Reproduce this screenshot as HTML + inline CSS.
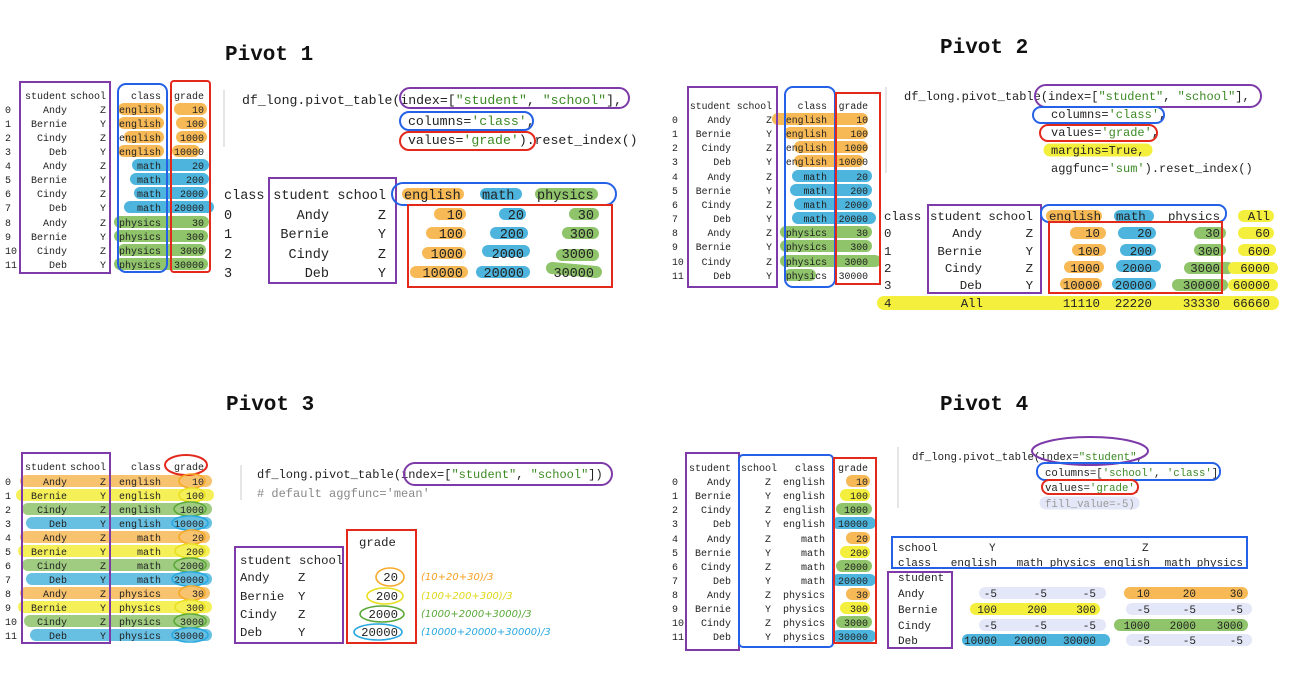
<!DOCTYPE html>
<html><head><meta charset="utf-8"><style>
html,body{margin:0;padding:0;background:#fff;}
svg{display:block;}
text{font-family:"Liberation Mono","DejaVu Sans Mono",monospace;fill:#222;}
.t{font-size:21px;font-weight:bold;fill:#111;}
.s{font-size:10px;text-anchor:end;}
.s tspan.i{text-anchor:start;}
.h line{stroke-linecap:round;stroke-width:12;}
.o{stroke:#f7b955;} .b{stroke:#4db4dd;} .g{stroke:#8fc46a;} .y{stroke:#f4ee3c;} .l{stroke:#e3e7f7;}
.bx{fill:none;stroke-width:2;}
.P{stroke:#7d3aa8;} .B{stroke:#2461e6;} .R{stroke:#e3281c;}
.str{fill:#3c8a24;} .k{fill:#8a5aa0;}
.hw{font-family:"DejaVu Sans",sans-serif;font-size:10px;font-style:italic;}
</style></head><body>
<svg width="1293" height="673" viewBox="0 0 1293 673" xmlns="http://www.w3.org/2000/svg">
<!-- titles -->
<text class="t" x="225" y="60">Pivot 1</text>
<text class="t" x="940" y="53">Pivot 2</text>
<text class="t" x="226" y="410">Pivot 3</text>
<text class="t" x="940" y="410">Pivot 4</text>

<!-- ========== Q1 ========== -->
<g class="h">
<line class="o" x1="124" y1="109" x2="158" y2="109"/><line class="o" x1="180" y1="109" x2="201" y2="109"/>
<line class="o" x1="124" y1="123" x2="158" y2="123"/><line class="o" x1="182" y1="123" x2="201" y2="123"/>
<line class="o" x1="130" y1="137" x2="158" y2="137"/><line class="o" x1="182" y1="137" x2="201" y2="137"/>
<line class="o" x1="124" y1="151" x2="158" y2="151"/><line class="o" x1="178" y1="151" x2="194" y2="151"/>
<line class="b" x1="138" y1="165" x2="203" y2="165"/>
<line class="b" x1="136" y1="179" x2="203" y2="179"/>
<line class="b" x1="140" y1="193" x2="202" y2="193"/>
<line class="b" x1="130" y1="207" x2="208" y2="207"/>
<line class="g" x1="120" y1="222" x2="203" y2="222"/>
<line class="g" x1="120" y1="236" x2="202" y2="236"/>
<line class="g" x1="124" y1="250" x2="200" y2="250"/>
<line class="g" x1="120" y1="264" x2="202" y2="264"/>
</g>
<g class="s">
<text y="99"><tspan x="67">student</tspan><tspan x="106">school</tspan><tspan x="161">class</tspan><tspan x="204">grade</tspan></text>
<text y="113"><tspan class="i" x="5">0</tspan><tspan x="67">Andy</tspan><tspan x="106">Z</tspan><tspan x="161">english</tspan><tspan x="204">10</tspan></text>
<text y="127"><tspan class="i" x="5">1</tspan><tspan x="67">Bernie</tspan><tspan x="106">Y</tspan><tspan x="161">english</tspan><tspan x="204">100</tspan></text>
<text y="141"><tspan class="i" x="5">2</tspan><tspan x="67">Cindy</tspan><tspan x="106">Z</tspan><tspan x="161">english</tspan><tspan x="204">1000</tspan></text>
<text y="155"><tspan class="i" x="5">3</tspan><tspan x="67">Deb</tspan><tspan x="106">Y</tspan><tspan x="161">english</tspan><tspan x="204">10000</tspan></text>
<text y="169"><tspan class="i" x="5">4</tspan><tspan x="67">Andy</tspan><tspan x="106">Z</tspan><tspan x="161">math</tspan><tspan x="204">20</tspan></text>
<text y="183"><tspan class="i" x="5">5</tspan><tspan x="67">Bernie</tspan><tspan x="106">Y</tspan><tspan x="161">math</tspan><tspan x="204">200</tspan></text>
<text y="197"><tspan class="i" x="5">6</tspan><tspan x="67">Cindy</tspan><tspan x="106">Z</tspan><tspan x="161">math</tspan><tspan x="204">2000</tspan></text>
<text y="211"><tspan class="i" x="5">7</tspan><tspan x="67">Deb</tspan><tspan x="106">Y</tspan><tspan x="161">math</tspan><tspan x="204">20000</tspan></text>
<text y="226"><tspan class="i" x="5">8</tspan><tspan x="67">Andy</tspan><tspan x="106">Z</tspan><tspan x="161">physics</tspan><tspan x="204">30</tspan></text>
<text y="240"><tspan class="i" x="5">9</tspan><tspan x="67">Bernie</tspan><tspan x="106">Y</tspan><tspan x="161">physics</tspan><tspan x="204">300</tspan></text>
<text y="254"><tspan class="i" x="5">10</tspan><tspan x="67">Cindy</tspan><tspan x="106">Z</tspan><tspan x="161">physics</tspan><tspan x="204">3000</tspan></text>
<text y="268"><tspan class="i" x="5">11</tspan><tspan x="67">Deb</tspan><tspan x="106">Y</tspan><tspan x="161">physics</tspan><tspan x="204">30000</tspan></text>
</g>
<rect class="bx P" x="20" y="82" width="90" height="191"/>
<rect class="bx B" x="118" y="84" width="49" height="188" rx="8"/>
<rect class="bx R" x="171" y="81" width="39" height="191" rx="3"/>
<line x1="224" y1="90" x2="224" y2="147" stroke="#ddd" stroke-width="1.5"/>
<g style="font-size:13.2px">
<text x="242" y="104">df_long.pivot_table(index=[<tspan class="str">"student"</tspan>, <tspan class="str">"school"</tspan>],</text>
<text x="408" y="125">columns=<tspan class="str">'class'</tspan>,</text>
<text x="408" y="144">values=<tspan class="str">'grade'</tspan>).reset_index()</text>
</g>
<rect class="bx P" x="400" y="88" width="229" height="20" rx="10"/>
<rect class="bx B" x="400" y="112" width="133" height="18" rx="9"/>
<rect class="bx R" x="400" y="132" width="135" height="18" rx="9"/>
<!-- Q1 output -->
<g class="h">
<line class="o" x1="408" y1="194" x2="458" y2="194"/><line class="b" x1="486" y1="194" x2="516" y2="194"/><line class="g" x1="541" y1="194" x2="592" y2="194"/>
<line class="o" x1="440" y1="214" x2="460" y2="214"/><line class="b" x1="505" y1="214" x2="520" y2="214"/><line class="g" x1="575" y1="214" x2="593" y2="214"/>
<line class="o" x1="432" y1="233" x2="460" y2="233"/><line class="b" x1="496" y1="233" x2="522" y2="233"/><line class="g" x1="568" y1="233" x2="593" y2="233"/>
<line class="o" x1="428" y1="253" x2="460" y2="253"/><line class="b" x1="488" y1="251" x2="524" y2="251"/><line class="g" x1="562" y1="255" x2="593" y2="255"/>
<line class="o" x1="416" y1="272" x2="462" y2="272"/><line class="b" x1="482" y1="272" x2="524" y2="272"/><line class="g" x1="552" y1="268" x2="596" y2="272"/>
</g>
<g style="font-size:13.5px;text-anchor:end">
<text y="199"><tspan x="224" style="text-anchor:start">class</tspan><tspan x="330">student</tspan><tspan x="386">school</tspan><tspan x="404" style="text-anchor:start">english</tspan><tspan x="482" style="text-anchor:start">math</tspan><tspan x="537" style="text-anchor:start">physics</tspan></text>
<text y="219"><tspan x="224" style="text-anchor:start">0</tspan><tspan x="329">Andy</tspan><tspan x="386">Z</tspan><tspan x="463">10</tspan><tspan x="524">20</tspan><tspan x="594">30</tspan></text>
<text y="238"><tspan x="224" style="text-anchor:start">1</tspan><tspan x="329">Bernie</tspan><tspan x="386">Y</tspan><tspan x="463">100</tspan><tspan x="524">200</tspan><tspan x="594">300</tspan></text>
<text y="258"><tspan x="224" style="text-anchor:start">2</tspan><tspan x="329">Cindy</tspan><tspan x="386">Z</tspan><tspan x="463">1000</tspan><tspan x="524">2000</tspan><tspan x="594">3000</tspan></text>
<text y="277"><tspan x="224" style="text-anchor:start">3</tspan><tspan x="329">Deb</tspan><tspan x="386">Y</tspan><tspan x="463">10000</tspan><tspan x="524">20000</tspan><tspan x="594">30000</tspan></text>
</g>
<rect class="bx P" x="269" y="178" width="127" height="105"/>
<rect class="bx B" x="392" y="183" width="224" height="22" rx="11"/>
<rect class="bx R" x="408" y="205" width="204" height="82"/>

<!-- ========== Q2 ========== -->
<g class="h">
<line class="o" x1="778" y1="119" x2="862" y2="119"/>
<line class="o" x1="790" y1="133" x2="862" y2="133"/>
<line class="o" x1="800" y1="147" x2="862" y2="147"/>
<line class="o" x1="800" y1="161" x2="858" y2="161"/>
<line class="b" x1="798" y1="176" x2="866" y2="176"/>
<line class="b" x1="796" y1="190" x2="866" y2="190"/>
<line class="b" x1="800" y1="204" x2="866" y2="204"/>
<line class="b" x1="798" y1="218" x2="870" y2="218"/>
<line class="g" x1="786" y1="232" x2="866" y2="232"/>
<line class="g" x1="786" y1="246" x2="866" y2="246"/>
<line class="g" x1="786" y1="261" x2="875" y2="261"/>
<line class="g" x1="790" y1="275" x2="810" y2="275"/>
</g>
<g class="s" style="font-size:9.8px">
<text y="109"><tspan x="731">student</tspan><tspan x="772">school</tspan><tspan x="827">class</tspan><tspan x="868">grade</tspan></text>
<text y="123"><tspan class="i" x="672">0</tspan><tspan x="731">Andy</tspan><tspan x="772">Z</tspan><tspan x="827">english</tspan><tspan x="868">10</tspan></text>
<text y="137"><tspan class="i" x="672">1</tspan><tspan x="731">Bernie</tspan><tspan x="772">Y</tspan><tspan x="827">english</tspan><tspan x="868">100</tspan></text>
<text y="151"><tspan class="i" x="672">2</tspan><tspan x="731">Cindy</tspan><tspan x="772">Z</tspan><tspan x="827">english</tspan><tspan x="868">1000</tspan></text>
<text y="165"><tspan class="i" x="672">3</tspan><tspan x="731">Deb</tspan><tspan x="772">Y</tspan><tspan x="827">english</tspan><tspan x="868">10000</tspan></text>
<text y="180"><tspan class="i" x="672">4</tspan><tspan x="731">Andy</tspan><tspan x="772">Z</tspan><tspan x="827">math</tspan><tspan x="868">20</tspan></text>
<text y="194"><tspan class="i" x="672">5</tspan><tspan x="731">Bernie</tspan><tspan x="772">Y</tspan><tspan x="827">math</tspan><tspan x="868">200</tspan></text>
<text y="208"><tspan class="i" x="672">6</tspan><tspan x="731">Cindy</tspan><tspan x="772">Z</tspan><tspan x="827">math</tspan><tspan x="868">2000</tspan></text>
<text y="222"><tspan class="i" x="672">7</tspan><tspan x="731">Deb</tspan><tspan x="772">Y</tspan><tspan x="827">math</tspan><tspan x="868">20000</tspan></text>
<text y="236"><tspan class="i" x="672">8</tspan><tspan x="731">Andy</tspan><tspan x="772">Z</tspan><tspan x="827">physics</tspan><tspan x="868">30</tspan></text>
<text y="250"><tspan class="i" x="672">9</tspan><tspan x="731">Bernie</tspan><tspan x="772">Y</tspan><tspan x="827">physics</tspan><tspan x="868">300</tspan></text>
<text y="265"><tspan class="i" x="672">10</tspan><tspan x="731">Cindy</tspan><tspan x="772">Z</tspan><tspan x="827">physics</tspan><tspan x="868">3000</tspan></text>
<text y="279"><tspan class="i" x="672">11</tspan><tspan x="731">Deb</tspan><tspan x="772">Y</tspan><tspan x="827">physics</tspan><tspan x="868">30000</tspan></text>
</g>
<rect class="bx P" x="688" y="87" width="89" height="200"/>
<rect class="bx B" x="785" y="87" width="50" height="200" rx="8"/>
<rect class="bx R" x="836" y="93" width="44" height="191"/>
<line x1="886" y1="87" x2="886" y2="173" stroke="#ddd" stroke-width="1.5"/>
<g class="h"><line class="y" x1="1050" y1="150" x2="1146" y2="150" style="stroke-width:13"/></g>
<g style="font-size:12px">
<text x="904" y="100">df_long.pivot_table(index=[<tspan class="str">"student"</tspan>, <tspan class="str">"school"</tspan>],</text>
<text x="1051" y="118">columns=<tspan class="str">'class'</tspan>,</text>
<text x="1051" y="136">values=<tspan class="str">'grade'</tspan>,</text>
<text x="1051" y="154">margins=True,</text>
<text x="1051" y="172">aggfunc=<tspan class="str">'sum'</tspan>).reset_index()</text>
</g>
<rect class="bx P" x="1035" y="85" width="226" height="22" rx="11"/>
<rect class="bx B" x="1033" y="107" width="131" height="16" rx="8"/>
<rect class="bx R" x="1040" y="125" width="117" height="16" rx="8"/>
<!-- Q2 output -->
<g class="h">
<line class="y" x1="884" y1="303" x2="1272" y2="303" style="stroke-width:14"/>
<line class="o" x1="1052" y1="216" x2="1096" y2="216"/><line class="b" x1="1120" y1="216" x2="1148" y2="216"/><line class="y" x1="1244" y1="216" x2="1268" y2="216"/>
<line class="o" x1="1076" y1="233" x2="1100" y2="233"/><line class="b" x1="1124" y1="233" x2="1150" y2="233"/><line class="g" x1="1200" y1="233" x2="1220" y2="233"/><line class="y" x1="1244" y1="233" x2="1268" y2="233"/>
<line class="o" x1="1078" y1="250" x2="1100" y2="250"/><line class="b" x1="1126" y1="250" x2="1150" y2="250"/><line class="g" x1="1200" y1="250" x2="1220" y2="250"/><line class="y" x1="1244" y1="250" x2="1270" y2="250"/>
<line class="o" x1="1070" y1="267" x2="1098" y2="267"/><line class="b" x1="1122" y1="266" x2="1155" y2="266"/><line class="g" x1="1190" y1="268" x2="1228" y2="268"/><line class="y" x1="1234" y1="268" x2="1272" y2="268"/>
<line class="o" x1="1066" y1="284" x2="1096" y2="284"/><line class="b" x1="1118" y1="284" x2="1150" y2="284"/><line class="g" x1="1178" y1="285" x2="1222" y2="285"/><line class="y" x1="1234" y1="285" x2="1272" y2="285"/>
</g>
<g style="font-size:12.4px;text-anchor:end">
<text y="220"><tspan x="884" style="text-anchor:start">class</tspan><tspan x="982">student</tspan><tspan x="1033">school</tspan><tspan x="1049" style="text-anchor:start">english</tspan><tspan x="1116" style="text-anchor:start">math</tspan><tspan x="1168" style="text-anchor:start">physics</tspan><tspan x="1270">All</tspan></text>
<text y="237"><tspan x="884" style="text-anchor:start">0</tspan><tspan x="982">Andy</tspan><tspan x="1033">Z</tspan><tspan x="1100">10</tspan><tspan x="1152">20</tspan><tspan x="1220">30</tspan><tspan x="1270">60</tspan></text>
<text y="255"><tspan x="884" style="text-anchor:start">1</tspan><tspan x="982">Bernie</tspan><tspan x="1033">Y</tspan><tspan x="1100">100</tspan><tspan x="1152">200</tspan><tspan x="1220">300</tspan><tspan x="1270">600</tspan></text>
<text y="272"><tspan x="884" style="text-anchor:start">2</tspan><tspan x="982">Cindy</tspan><tspan x="1033">Z</tspan><tspan x="1100">1000</tspan><tspan x="1152">2000</tspan><tspan x="1220">3000</tspan><tspan x="1270">6000</tspan></text>
<text y="289"><tspan x="884" style="text-anchor:start">3</tspan><tspan x="982">Deb</tspan><tspan x="1033">Y</tspan><tspan x="1100">10000</tspan><tspan x="1152">20000</tspan><tspan x="1220">30000</tspan><tspan x="1270">60000</tspan></text>
<text y="307"><tspan x="884" style="text-anchor:start">4</tspan><tspan x="983">All</tspan><tspan x="1100">11110</tspan><tspan x="1152">22220</tspan><tspan x="1220">33330</tspan><tspan x="1270">66660</tspan></text>
</g>
<rect class="bx P" x="928" y="205" width="113" height="88"/>
<rect class="bx B" x="1041" y="205" width="185" height="17" rx="8"/>
<rect class="bx R" x="1049" y="222" width="173" height="71"/>

<!-- ========== Q3 ========== -->
<g class="h" style="opacity:.85">
<line class="o" x1="26" y1="481" x2="206" y2="481"/>
<line class="y" x1="22" y1="495" x2="208" y2="495"/>
<line class="g" x1="28" y1="509" x2="206" y2="509"/>
<line class="b" x1="32" y1="523" x2="206" y2="523"/>
<line class="o" x1="26" y1="537" x2="204" y2="537"/>
<line class="y" x1="24" y1="551" x2="204" y2="551"/>
<line class="g" x1="28" y1="565" x2="204" y2="565"/>
<line class="b" x1="32" y1="579" x2="206" y2="579"/>
<line class="o" x1="26" y1="593" x2="204" y2="593"/>
<line class="y" x1="24" y1="607" x2="206" y2="607"/>
<line class="g" x1="30" y1="621" x2="204" y2="621"/>
<line class="b" x1="36" y1="635" x2="206" y2="635"/>
</g>
<g class="s">
<text y="470"><tspan x="67">student</tspan><tspan x="106">school</tspan><tspan x="161">class</tspan><tspan x="204">grade</tspan></text>
<text y="485"><tspan class="i" x="5">0</tspan><tspan x="67">Andy</tspan><tspan x="106">Z</tspan><tspan x="161">english</tspan><tspan x="204">10</tspan></text>
<text y="499"><tspan class="i" x="5">1</tspan><tspan x="67">Bernie</tspan><tspan x="106">Y</tspan><tspan x="161">english</tspan><tspan x="204">100</tspan></text>
<text y="513"><tspan class="i" x="5">2</tspan><tspan x="67">Cindy</tspan><tspan x="106">Z</tspan><tspan x="161">english</tspan><tspan x="204">1000</tspan></text>
<text y="527"><tspan class="i" x="5">3</tspan><tspan x="67">Deb</tspan><tspan x="106">Y</tspan><tspan x="161">english</tspan><tspan x="204">10000</tspan></text>
<text y="541"><tspan class="i" x="5">4</tspan><tspan x="67">Andy</tspan><tspan x="106">Z</tspan><tspan x="161">math</tspan><tspan x="204">20</tspan></text>
<text y="555"><tspan class="i" x="5">5</tspan><tspan x="67">Bernie</tspan><tspan x="106">Y</tspan><tspan x="161">math</tspan><tspan x="204">200</tspan></text>
<text y="569"><tspan class="i" x="5">6</tspan><tspan x="67">Cindy</tspan><tspan x="106">Z</tspan><tspan x="161">math</tspan><tspan x="204">2000</tspan></text>
<text y="583"><tspan class="i" x="5">7</tspan><tspan x="67">Deb</tspan><tspan x="106">Y</tspan><tspan x="161">math</tspan><tspan x="204">20000</tspan></text>
<text y="597"><tspan class="i" x="5">8</tspan><tspan x="67">Andy</tspan><tspan x="106">Z</tspan><tspan x="161">physics</tspan><tspan x="204">30</tspan></text>
<text y="611"><tspan class="i" x="5">9</tspan><tspan x="67">Bernie</tspan><tspan x="106">Y</tspan><tspan x="161">physics</tspan><tspan x="204">300</tspan></text>
<text y="625"><tspan class="i" x="5">10</tspan><tspan x="67">Cindy</tspan><tspan x="106">Z</tspan><tspan x="161">physics</tspan><tspan x="204">3000</tspan></text>
<text y="639"><tspan class="i" x="5">11</tspan><tspan x="67">Deb</tspan><tspan x="106">Y</tspan><tspan x="161">physics</tspan><tspan x="204">30000</tspan></text>
</g>
<rect class="bx P" x="22" y="453" width="88" height="190"/>
<ellipse class="bx R" cx="186" cy="465" rx="21" ry="10"/>
<g class="bx" style="stroke-width:1.6">
<ellipse cx="192" cy="481" rx="13" ry="7" stroke="#f7a928"/>
<ellipse cx="192" cy="495" rx="13" ry="7" stroke="#e8e020"/>
<ellipse cx="190" cy="509" rx="16" ry="7" stroke="#5aa838"/>
<ellipse cx="190" cy="523" rx="18" ry="7" stroke="#2aa8e0"/>
<ellipse cx="192" cy="537" rx="13" ry="7" stroke="#f7a928"/>
<ellipse cx="190" cy="551" rx="15" ry="7" stroke="#e8e020"/>
<ellipse cx="190" cy="565" rx="16" ry="7" stroke="#5aa838"/>
<ellipse cx="190" cy="579" rx="18" ry="7" stroke="#2aa8e0"/>
<ellipse cx="192" cy="593" rx="13" ry="7" stroke="#f7a928"/>
<ellipse cx="190" cy="607" rx="15" ry="7" stroke="#e8e020"/>
<ellipse cx="190" cy="621" rx="16" ry="7" stroke="#5aa838"/>
<ellipse cx="190" cy="635" rx="18" ry="7" stroke="#2aa8e0"/>
</g>
<line x1="241" y1="465" x2="241" y2="500" stroke="#ddd" stroke-width="1.5"/>
<g style="font-size:12px">
<text x="257" y="478">df_long.pivot_table(index=[<tspan class="str">"student"</tspan>, <tspan class="str">"school"</tspan>])</text>
<text x="257" y="497" style="fill:#888"># default aggfunc='mean'</text>
</g>
<rect class="bx P" x="404" y="463" width="208" height="22" rx="11"/>
<g style="font-size:12.3px">
<text x="359" y="546">grade</text>
<text x="240" y="564">student school</text>
<text x="240" y="581">Andy</text><text x="298" y="581">Z</text>
<text x="240" y="600">Bernie</text><text x="298" y="600">Y</text>
<text x="240" y="618">Cindy</text><text x="298" y="618">Z</text>
<text x="240" y="636">Deb</text><text x="298" y="636">Y</text>
<g style="text-anchor:end"><text x="398" y="581">20</text><text x="398" y="600">200</text><text x="398" y="618">2000</text><text x="398" y="636">20000</text></g>
</g>
<rect class="bx P" x="235" y="547" width="108" height="96"/>
<rect class="bx R" x="347" y="530" width="69" height="113"/>
<g class="bx" style="stroke-width:1.6">
<ellipse cx="390" cy="577" rx="14" ry="9" stroke="#f7a928"/>
<ellipse cx="385" cy="596" rx="18" ry="8" stroke="#e8e020"/>
<ellipse cx="382" cy="614" rx="22" ry="8" stroke="#5aa838"/>
<ellipse cx="378" cy="632" rx="24" ry="8" stroke="#2aa8e0"/>
</g>
<text class="hw" x="421" y="580" style="fill:#f7a020">(10+20+30)/3</text>
<text class="hw" x="421" y="599" style="fill:#e0d818">(100+200+300)/3</text>
<text class="hw" x="421" y="617" style="fill:#5aa838">(1000+2000+3000)/3</text>
<text class="hw" x="421" y="635" style="fill:#2aa8e0">(10000+20000+30000)/3</text>

<!-- ========== Q4 ========== -->
<g class="h">
<line class="o" x1="852" y1="481" x2="864" y2="481"/>
<line class="y" x1="846" y1="495" x2="864" y2="495"/>
<line class="g" x1="842" y1="509" x2="866" y2="509"/>
<line class="b" x1="838" y1="523" x2="870" y2="523"/>
<line class="o" x1="852" y1="538" x2="864" y2="538"/>
<line class="y" x1="846" y1="552" x2="864" y2="552"/>
<line class="g" x1="842" y1="566" x2="866" y2="566"/>
<line class="b" x1="838" y1="580" x2="870" y2="580"/>
<line class="o" x1="852" y1="594" x2="864" y2="594"/>
<line class="y" x1="846" y1="608" x2="864" y2="608"/>
<line class="g" x1="842" y1="622" x2="866" y2="622"/>
<line class="b" x1="838" y1="636" x2="870" y2="636"/>
</g>
<g class="s">
<text y="471"><tspan x="731">student</tspan><tspan x="777">school</tspan><tspan x="825">class</tspan><tspan x="868">grade</tspan></text>
<text y="485"><tspan class="i" x="672">0</tspan><tspan x="731">Andy</tspan><tspan x="771">Z</tspan><tspan x="825">english</tspan><tspan x="868">10</tspan></text>
<text y="499"><tspan class="i" x="672">1</tspan><tspan x="731">Bernie</tspan><tspan x="771">Y</tspan><tspan x="825">english</tspan><tspan x="868">100</tspan></text>
<text y="513"><tspan class="i" x="672">2</tspan><tspan x="731">Cindy</tspan><tspan x="771">Z</tspan><tspan x="825">english</tspan><tspan x="868">1000</tspan></text>
<text y="527"><tspan class="i" x="672">3</tspan><tspan x="731">Deb</tspan><tspan x="771">Y</tspan><tspan x="825">english</tspan><tspan x="868">10000</tspan></text>
<text y="542"><tspan class="i" x="672">4</tspan><tspan x="731">Andy</tspan><tspan x="771">Z</tspan><tspan x="825">math</tspan><tspan x="868">20</tspan></text>
<text y="556"><tspan class="i" x="672">5</tspan><tspan x="731">Bernie</tspan><tspan x="771">Y</tspan><tspan x="825">math</tspan><tspan x="868">200</tspan></text>
<text y="570"><tspan class="i" x="672">6</tspan><tspan x="731">Cindy</tspan><tspan x="771">Z</tspan><tspan x="825">math</tspan><tspan x="868">2000</tspan></text>
<text y="584"><tspan class="i" x="672">7</tspan><tspan x="731">Deb</tspan><tspan x="771">Y</tspan><tspan x="825">math</tspan><tspan x="868">20000</tspan></text>
<text y="598"><tspan class="i" x="672">8</tspan><tspan x="731">Andy</tspan><tspan x="771">Z</tspan><tspan x="825">physics</tspan><tspan x="868">30</tspan></text>
<text y="612"><tspan class="i" x="672">9</tspan><tspan x="731">Bernie</tspan><tspan x="771">Y</tspan><tspan x="825">physics</tspan><tspan x="868">300</tspan></text>
<text y="626"><tspan class="i" x="672">10</tspan><tspan x="731">Cindy</tspan><tspan x="771">Z</tspan><tspan x="825">physics</tspan><tspan x="868">3000</tspan></text>
<text y="640"><tspan class="i" x="672">11</tspan><tspan x="731">Deb</tspan><tspan x="771">Y</tspan><tspan x="825">physics</tspan><tspan x="868">30000</tspan></text>
</g>
<rect class="bx P" x="686" y="453" width="53" height="197"/>
<rect class="bx B" x="739" y="455" width="94" height="192" rx="4"/>
<rect class="bx R" x="834" y="458" width="42" height="185"/>
<line x1="898" y1="447" x2="898" y2="508" stroke="#ddd" stroke-width="1.5"/>
<g class="h"><line class="l" x1="1046" y1="503" x2="1133" y2="503" style="stroke-width:13"/></g>
<g style="font-size:10.7px">
<text x="912" y="460">df_long.pivot_table(index=<tspan class="str">"student"</tspan>,</text>
<text x="1045" y="476">columns=[<tspan class="str">'school'</tspan>, <tspan class="str">'class'</tspan>]</text>
<text x="1045" y="491">values=<tspan class="str">'grade'</tspan>,</text>
<text x="1045" y="507" style="fill:#999">fill_value=-5)</text>
</g>
<ellipse class="bx P" cx="1090" cy="451" rx="58" ry="14"/>
<rect class="bx B" x="1037" y="463" width="183" height="17" rx="8"/>
<rect class="bx R" x="1042" y="480" width="96" height="14" rx="7"/>
<!-- Q4 output -->
<g class="h">
<line class="l" x1="985" y1="593" x2="1100" y2="593"/><line class="o" x1="1130" y1="593" x2="1242" y2="593"/>
<line class="y" x1="976" y1="609" x2="1094" y2="609"/><line class="l" x1="1132" y1="609" x2="1246" y2="609"/>
<line class="l" x1="985" y1="625" x2="1100" y2="625"/><line class="g" x1="1120" y1="625" x2="1242" y2="625"/>
<line class="b" x1="968" y1="640" x2="1104" y2="640"/><line class="l" x1="1132" y1="640" x2="1246" y2="640"/>
</g>
<g style="font-size:11px">
<text x="898" y="551">school</text><text x="989" y="551">Y</text><text x="1142" y="551">Z</text>
<text x="898" y="566">class</text>
<g style="text-anchor:end">
<text y="566"><tspan x="997">english</tspan><tspan x="1043">math</tspan><tspan x="1096">physics</tspan><tspan x="1150">english</tspan><tspan x="1191">math</tspan><tspan x="1243">physics</tspan></text>
<text y="597"><tspan x="997">-5</tspan><tspan x="1047">-5</tspan><tspan x="1096">-5</tspan><tspan x="1150">10</tspan><tspan x="1196">20</tspan><tspan x="1243">30</tspan></text>
<text y="613"><tspan x="997">100</tspan><tspan x="1047">200</tspan><tspan x="1096">300</tspan><tspan x="1150">-5</tspan><tspan x="1196">-5</tspan><tspan x="1243">-5</tspan></text>
<text y="629"><tspan x="997">-5</tspan><tspan x="1047">-5</tspan><tspan x="1096">-5</tspan><tspan x="1150">1000</tspan><tspan x="1196">2000</tspan><tspan x="1243">3000</tspan></text>
<text y="644"><tspan x="997">10000</tspan><tspan x="1047">20000</tspan><tspan x="1096">30000</tspan><tspan x="1150">-5</tspan><tspan x="1196">-5</tspan><tspan x="1243">-5</tspan></text>
</g>
<text x="898" y="581">student</text>
<text x="898" y="597">Andy</text><text x="898" y="613">Bernie</text><text x="898" y="629">Cindy</text><text x="898" y="644">Deb</text>
</g>
<rect class="bx B" x="892" y="537" width="355" height="31"/>
<rect class="bx P" x="888" y="572" width="64" height="76"/>
</svg>
</body></html>
